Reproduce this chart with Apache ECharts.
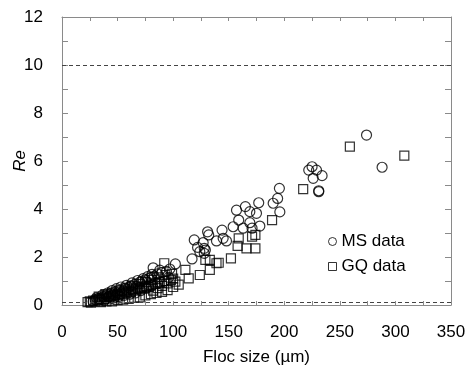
<!DOCTYPE html>
<html><head><meta charset="utf-8">
<script src="https://cdn.jsdelivr.net/npm/echarts@6/dist/echarts.min.js"></script>
<style>html,body{margin:0;padding:0;background:#fff}#c{width:466px;height:365px}</style>
</head><body><div id="c"></div>
<script>
const xTicks = [0, 50, 100, 150, 200, 250, 300, 350];
const yTicks = [0, 2, 4, 6, 8, 10, 12];
const refLines = [10, 0.1];
const msData = [
  [274,7.08],[288,5.74],[222,5.62],[225,5.76],[229,5.62],[226,5.28],[234,5.39],[231,4.76],[231,4.72],
  [195.6,4.86],[194,4.44],[190,4.24],[196,3.88],
  [177,4.26],[165,4.1],[157,3.95],[169,3.89],[175,3.82],[159,3.54],[154,3.26],[163,3.2],[169,3.43],[178,3.29],[171,3.2],
  [144,3.12],[145,2.78],[148,2.67],[139,2.67],[131,3.05],[132,2.92],[119,2.71],[127,2.6],[122,2.4],[124,2.22],[129,2.29],[128,2.15],[128,2.36],[117,1.92],[102,1.71],[82,1.55],
  [28,0.15],[30,0.22],[33,0.28],[35,0.25],[37,0.35],[40,0.4],[42,0.35],[44,0.48],[46,0.45],[48,0.55],[50,0.5],[52,0.62],[55,0.6],[57,0.7],[60,0.72],[62,0.8],[65,0.85],[67,0.78],[70,0.95],[72,1.0],[75,1.05],[78,1.1],[80,1.15],[83,1.2],[86,1.3],[90,1.35],[94,1.4],[97,1.5],
  [31,0.3],[36,0.4],[41,0.5],[45,0.6],[49,0.68],[53,0.75],[58,0.82],[63,0.92],[68,1.02],[73,1.1],[77,1.18],[81,1.28],[88,1.45],
  [38,0.2],[43,0.25],[47,0.3],[51,0.35],[56,0.4],[61,0.45],[66,0.5],[71,0.6],[76,0.7],[81,0.8],[86,0.9],[92,1.0],[96,1.15]
];
const gqData = [
  [259,6.6],[308,6.22],[217,4.83],[189,3.54],
  [174,2.92],[171,2.85],[159,2.78],[158,2.46],[166,2.36],[174,2.36],[152,1.94],[141,1.76],[133,1.88],[129,1.88],[139,1.74],[133,1.46],[124,1.25],[114,1.11],[111,1.46],[102,0.97],[92,1.74],
  [23,0.12],[25,0.15],[26,0.1],[28,0.18],[30,0.15],[32,0.22],[34,0.2],[36,0.28],[38,0.25],[40,0.32],[42,0.3],[44,0.38],[46,0.35],[48,0.42],[50,0.4],[52,0.48],[54,0.45],[56,0.55],[58,0.5],[60,0.6],[62,0.55],[64,0.65],[66,0.6],[68,0.7],[70,0.65],[72,0.75],[74,0.7],[76,0.8],[78,0.75],[80,0.85],[82,0.6],[84,0.9],[86,0.7],[88,0.95],[90,0.8],[92,1.0],[95,0.9],[98,1.05],[100,1.1],
  [35,0.12],[40,0.15],[45,0.15],[50,0.2],[55,0.22],[60,0.25],[65,0.3],[70,0.32],[75,0.4],[80,0.45],[85,0.5],[90,0.55],[95,0.62],[100,0.75],[105,0.85],
  [33,0.35],[39,0.45],[45,0.52],[51,0.6],[57,0.68],[63,0.78],[69,0.88],[75,0.95],[81,1.05],[87,1.15],[93,1.25],[99,1.3]
];

const chart = echarts.init(document.getElementById('c'), null, {renderer: 'canvas'});
const font = '"Liberation Sans", Arial, sans-serif';
const axisLineStyle = {color: '#8a8a8a', width: 1};
const baseX = {
  type: 'value', min: 0, max: 350, interval: 50,
  axisLine: {show: true, onZero: false, lineStyle: axisLineStyle},
  axisTick: {show: true, inside: true, length: 4, lineStyle: axisLineStyle},
  minorTick: {show: true, splitNumber: 2, length: 4, lineStyle: axisLineStyle},
  splitLine: {show: false}
};
const baseY = {
  type: 'value', min: 0, max: 12, interval: 2,
  axisLine: {show: true, onZero: false, lineStyle: axisLineStyle},
  axisTick: {show: true, inside: true, length: 6, lineStyle: axisLineStyle},
  minorTick: {show: true, splitNumber: 2, length: 6, lineStyle: axisLineStyle},
  splitLine: {show: false}
};
const hollow = {color: 'rgba(0,0,0,0)', borderColor: '#000', borderWidth: 1.2};
chart.setOption({
  animation: false,
  backgroundColor: '#fff',
  grid: {left: 62, right: 15, top: 17, bottom: 60, containLabel: false, outerBoundsMode: 'none'},
  xAxis: [
    Object.assign({}, baseX, {
      position: 'bottom', name: 'Floc size (\u00b5m)', nameLocation: 'middle', nameGap: 44, nameMoveOverlap: false,
      nameTextStyle: {fontFamily: font, fontSize: 17, color: '#000'},
      axisLabel: {show: true, margin: 19, fontFamily: font, fontSize: 17, color: '#000'}
    }),
    Object.assign({}, baseX, {position: 'top', axisLabel: {show: false}})
  ],
  yAxis: [
    Object.assign({}, baseY, {
      position: 'left', name: 'Re', nameLocation: 'middle', nameGap: 33, nameMoveOverlap: false,
      nameTextStyle: {fontFamily: font, fontSize: 17, fontStyle: 'italic', color: '#000'},
      axisLabel: {show: true, margin: 19, fontFamily: font, fontSize: 17, color: '#000'}
    }),
    Object.assign({}, baseY, {position: 'right', axisLabel: {show: false}})
  ],
  legend: {
    orient: 'vertical', left: 323, top: 228, itemGap: 8,
    itemWidth: 8, itemHeight: 8,
    textStyle: {fontFamily: font, fontSize: 17, color: '#000'},
    data: [
      {name: 'MS data', icon: 'circle', itemStyle: {color: 'rgba(0,0,0,0)', borderColor: '#000', borderWidth: 1}},
      {name: 'GQ data', icon: 'rect', itemStyle: {color: 'rgba(0,0,0,0)', borderColor: '#000', borderWidth: 1}}
    ]
  },
  series: [
    {
      name: 'refs', type: 'line', data: [], silent: true,
      markLine: {
        silent: true, symbol: ['none', 'none'], label: {show: false},
        lineStyle: {type: [4, 3], color: '#444', width: 1},
        data: refLines.map(v => ({yAxis: v}))
      }
    },
    {name: 'GQ data', type: 'scatter', symbol: 'rect', symbolSize: 9, data: gqData, itemStyle: hollow},
    {name: 'MS data', type: 'scatter', symbol: 'circle', symbolSize: 10, data: msData, itemStyle: hollow}
  ]
});
</script></body></html>
